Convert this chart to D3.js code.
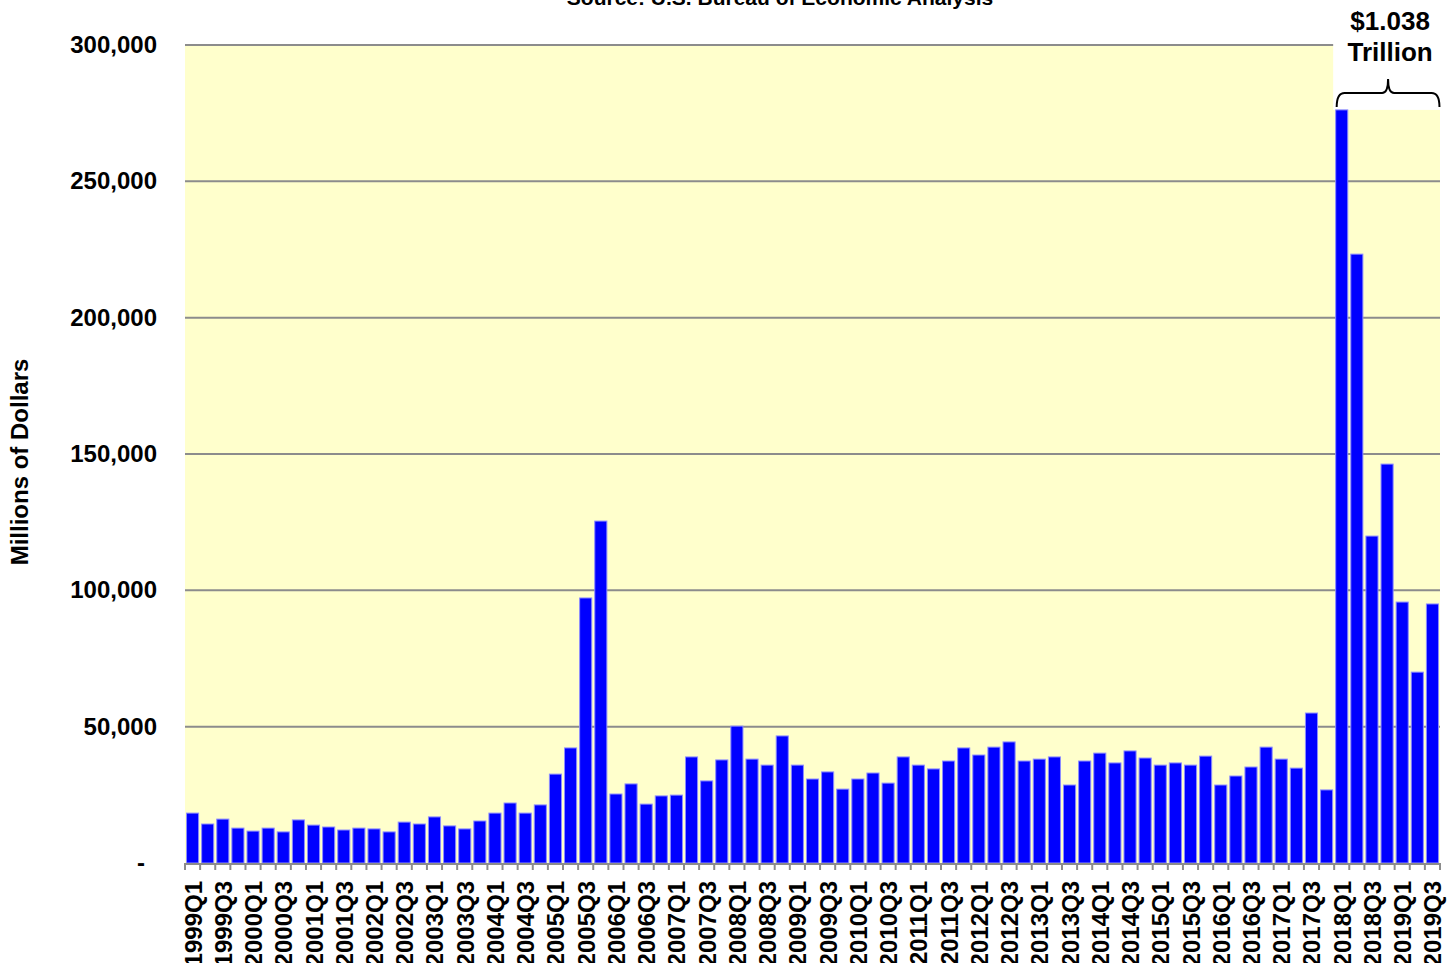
<!DOCTYPE html>
<html>
<head>
<meta charset="utf-8">
<script src="https://cdn.jsdelivr.net/npm/d3@7"></script>
<style>
  body { margin: 0; background: #fff; }
  svg text { font-family: "Liberation Sans", Arial, sans-serif; font-weight: bold; fill: #000; }
</style>
</head>
<body>
<svg id="chart" width="1452" height="963"></svg>
<script>
// Quarters 1999Q1 .. 2019Q3
const years = d3.range(1999, 2020);
const quarters = years.flatMap(y => [1, 2, 3, 4].map(q => y + "Q" + q)).slice(0, 83);

// Values in millions of dollars
const values = [
  18.3, 14.3, 16.1, 12.8, 11.7, 12.8, 11.4, 15.8,
  13.9, 13.2, 12.1, 12.8, 12.5, 11.4, 15.0, 14.3,
  16.9, 13.6, 12.5, 15.4, 18.3, 22.0, 18.3, 21.3,
  32.6, 42.2, 97.2, 125.4, 25.3, 29.0, 21.6, 24.6,
  24.9, 38.9, 30.1, 37.8, 50.2, 38.1, 35.9, 46.6,
  35.9, 30.8, 33.4, 27.1, 30.8, 33.0, 29.3, 38.9,
  35.9, 34.5, 37.4, 42.2, 39.6, 42.5, 44.4, 37.4,
  38.1, 38.9, 28.6, 37.4, 40.3, 36.7, 41.1, 38.5,
  35.9, 36.7, 35.9, 39.2, 28.6, 31.9, 35.2, 42.5,
  38.1, 34.8, 55.0, 26.8, 276.2, 223.3, 119.9, 146.3,
  95.7, 70.0, 95.0
].map(v => v * 1000);

const yTicks = [0, 50000, 100000, 150000, 200000, 250000, 300000];
const sourceText = "Source:  U.S. Bureau of Economic Analysis";
const noteLines = ["$1.038", "Trillion"];
const noteFirst = "2018Q1";
const noteLast = "2019Q3";

const margin = { left: 185, right: 12, top: 45, bottom: 100 };
const width = 1452, height = 963;
const svg = d3.select("#chart");

const x = d3.scaleBand()
  .domain(quarters)
  .range([margin.left, width - margin.right])
  .paddingInner(0.2)
  .paddingOuter(0.1);

const y = d3.scaleLinear()
  .domain([0, 300000])
  .range([height - margin.bottom, margin.top]);

// plot background
svg.append("rect")
  .attr("x", margin.left)
  .attr("y", margin.top)
  .attr("width", width - margin.right - margin.left)
  .attr("height", y(0) - margin.top)
  .attr("fill", "#ffffcc");

// gridlines
svg.append("g")
  .selectAll("line")
  .data(yTicks.filter(d => d > 0))
  .join("line")
  .attr("x1", margin.left)
  .attr("x2", width - margin.right)
  .attr("y1", d => y(d))
  .attr("y2", d => y(d))
  .attr("stroke", "#8c8c8c")
  .attr("stroke-width", 2);

// white box behind the annotation, down to the tallest bar
const step = x.step();
const boxLeft = x(noteFirst) - (step - x.bandwidth()) / 2 - 1;
svg.append("rect")
  .attr("x", boxLeft)
  .attr("y", 0)
  .attr("width", width - boxLeft)
  .attr("height", y(d3.max(values)))
  .attr("fill", "#fff");

// bars
svg.append("g")
  .selectAll("rect")
  .data(values)
  .join("rect")
  .attr("x", (d, i) => x(quarters[i]))
  .attr("y", d => y(d))
  .attr("width", x.bandwidth())
  .attr("height", d => y(0) - y(d))
  .attr("fill", "#0000ff")
  .attr("stroke", "#8c8cff")
  .attr("stroke-width", 1);

// x axis line and ticks at category boundaries
const xAxis = svg.append("g");
xAxis.append("line")
  .attr("x1", margin.left)
  .attr("x2", width - margin.right)
  .attr("y1", y(0) + 1)
  .attr("y2", y(0) + 1)
  .attr("stroke", "#8c8c8c")
  .attr("stroke-width", 2);
xAxis.selectAll("line.tick")
  .data(d3.range(quarters.length + 1))
  .join("line")
  .attr("class", "tick")
  .attr("x1", i => margin.left + i * step)
  .attr("x2", i => margin.left + i * step)
  .attr("y1", y(0))
  .attr("y2", y(0) + 7)
  .attr("stroke", "#8c8c8c")
  .attr("stroke-width", 2);

// x labels: every other quarter, rotated (they run off the bottom edge)
xAxis.selectAll("text")
  .data(quarters.filter((d, i) => i % 2 === 0))
  .join("text")
  .attr("transform", d => `translate(${x(d) + x.bandwidth() / 2 + 9},${y(0) + 18}) rotate(-90)`)
  .attr("text-anchor", "end")
  .attr("font-size", 24)
  .text(d => d);

// y tick labels (zero shown as a dash, set in a little)
svg.append("g")
  .selectAll("text")
  .data(yTicks)
  .join("text")
  .attr("x", d => d === 0 ? 145 : 157)
  .attr("y", d => y(d) + 8)
  .attr("text-anchor", "end")
  .attr("font-size", 24)
  .text(d => d === 0 ? "-" : d3.format(",")(d));

// y axis title
svg.append("text")
  .attr("transform", `translate(28,${(y(0) + y(300000)) / 2 + 8}) rotate(-90)`)
  .attr("text-anchor", "middle")
  .attr("font-size", 24)
  .text("Millions of Dollars");

// source line (cut off at the top edge)
svg.append("text")
  .attr("x", 780)
  .attr("y", 5)
  .attr("text-anchor", "middle")
  .attr("font-size", 21)
  .text(sourceText);

// brace over the 2018-2019 bars
const bx0 = x(noteFirst) + 1;
const bx1 = x(noteLast) + x.bandwidth() + 1;
const bxm = (bx0 + bx1) / 2;
const byBottom = y(d3.max(values)) - 3;
const byMid = byBottom - 14;
const byTop = byMid - 14;
svg.append("path")
  .attr("d", `M${bx0},${byBottom} Q${bx0},${byMid} ${bx0 + 8},${byMid} L${bxm - 6},${byMid} Q${bxm},${byMid} ${bxm},${byTop}` +
             ` Q${bxm},${byMid} ${bxm + 6},${byMid} L${bx1 - 8},${byMid} Q${bx1},${byMid} ${bx1},${byBottom}`)
  .attr("fill", "none")
  .attr("stroke", "#000")
  .attr("stroke-width", 2);

svg.append("g")
  .selectAll("text")
  .data(noteLines)
  .join("text")
  .attr("x", bxm + 2)
  .attr("y", (d, i) => 30 + i * 31)
  .attr("text-anchor", "middle")
  .attr("font-size", 26)
  .text(d => d);
</script>
</body>
</html>
